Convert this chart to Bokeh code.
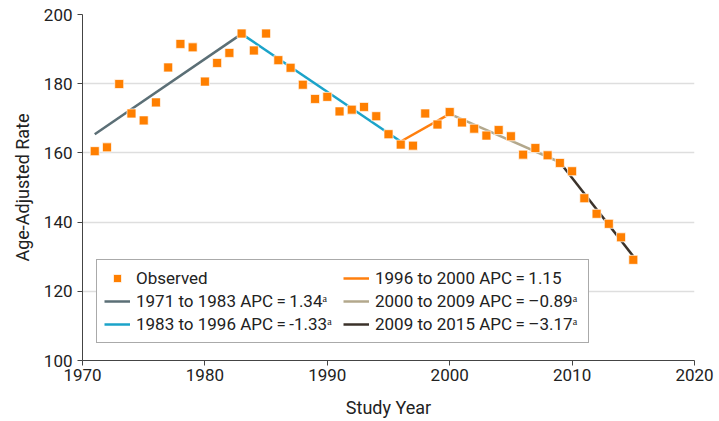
from bokeh.plotting import figure
from bokeh.models import Legend, LegendItem, ColumnDataSource, FixedTicker
from bokeh.embed import file_html
from bokeh.resources import INLINE

# ---- data ----
years = list(range(1971, 2016))
observed = [160.5, 161.6, 179.9, 171.4, 169.4, 174.6, 184.7, 191.5, 190.5, 180.6,
            186.0, 188.9, 194.5, 189.6, 194.5, 186.8, 184.6, 179.7, 175.6, 176.2,
            172.0, 172.5, 173.3, 170.6, 165.4, 162.4, 162.1, 171.4, 168.2, 171.8,
            168.8, 167.0, 165.0, 166.6, 164.8, 159.5, 161.4, 159.3, 157.1, 154.7,
            146.9, 142.4, 139.5, 135.6, 129.1]
joinpoint_years = [1971, 1983, 1996, 2000, 2009, 2015]
joinpoint_fit = [165.4, 194.4, 163.3, 171.3, 157.3, 130.1]
segment_labels = [
    "1971 to 1983 APC\u2009=\u20091.34\u1d43",
    "1983 to 1996 APC\u2009=\u2009-1.33\u1d43",
    "1996 to 2000 APC\u2009=\u20091.15",
    "2000 to 2009 APC\u2009=\u2009\u20130.89\u1d43",
    "2009 to 2015 APC\u2009=\u2009\u20133.17\u1d43",
]
segment_colors = ["#5b6f76", "#1ba3c9", "#ff7f0e", "#b3a88c", "#3b322a"]
x_ticks = [1970, 1980, 1990, 2000, 2010, 2020]
y_ticks = [100, 120, 140, 160, 180, 200]

FONT = "Roboto"
TXT = "#222222"

p = figure(width=719, height=421, x_range=(1970, 2020), y_range=(100, 200),
           output_backend="svg", toolbar_location=None,
           min_border_left=82, min_border_right=25, min_border_top=14, min_border_bottom=61)
p.outline_line_color = None
p.xgrid.grid_line_color = None
p.ygrid.grid_line_color = "#dedede"
p.ygrid.grid_line_width = 1.5

for ax in (p.xaxis[0], p.yaxis[0]):
    ax.axis_line_color = "#444444"
    ax.axis_line_width = 1
    ax.major_tick_line_color = "#444444"
    ax.major_tick_in = 0
    ax.major_tick_out = 5
    ax.minor_tick_line_color = None
    ax.major_label_text_font = FONT
    ax.major_label_text_font_size = "17px"
    ax.major_label_text_color = TXT
    ax.axis_label_text_font = FONT
    ax.axis_label_text_font_size = "18px"
    ax.axis_label_text_font_style = "normal"
    ax.axis_label_text_color = TXT

p.xaxis.ticker = FixedTicker(ticks=x_ticks)
p.yaxis.ticker = FixedTicker(ticks=y_ticks)
p.xaxis.axis_label = "Study Year"
p.yaxis.axis_label = "Age-Adjusted Rate"
p.xaxis.major_label_standoff = 3
p.yaxis.major_label_standoff = 5
p.xaxis.axis_label_standoff = 13
p.yaxis.axis_label_standoff = 8

seg_renderers = []
for i in range(len(joinpoint_years) - 1):
    r = p.line(x=joinpoint_years[i:i + 2], y=joinpoint_fit[i:i + 2],
               line_color=segment_colors[i], line_width=2.5)
    seg_renderers.append(r)

src = ColumnDataSource(dict(year=years, rate=observed))
obs = p.scatter(x="year", y="rate", source=src, marker="square", size=9,
                fill_color="#ff7f00", line_color="#ffffff", line_alpha=0.7, line_width=1)

items = [LegendItem(label="Observed", renderers=[obs])]
items += [LegendItem(label=segment_labels[i], renderers=[seg_renderers[i]]) for i in range(5)]

legend = Legend(items=items, location=(14, 17), ncols=2,
                label_text_font=FONT, label_text_font_size="17px", label_text_color=TXT,
                glyph_width=26, glyph_height=20, label_height=22, label_width=206,
                label_standoff=6, spacing=1, padding=7, margin=0,
                border_line_color="#555555", border_line_width=1,
                background_fill_color="white", background_fill_alpha=1)
p.add_layout(legend, "center")

open("out.html", "w").write(file_html(p, INLINE))
